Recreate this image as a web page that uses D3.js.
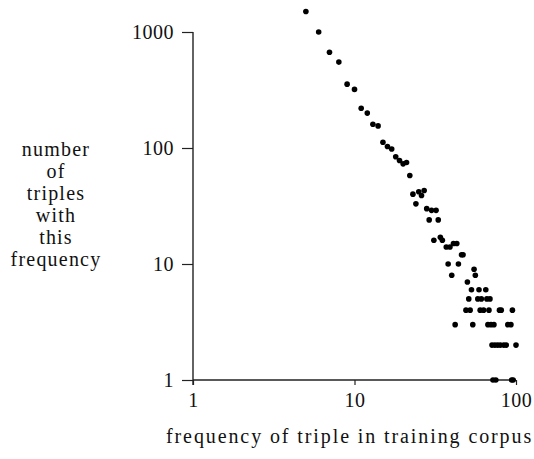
<!DOCTYPE html>
<html>
<head>
<meta charset="utf-8">
<script src="https://cdn.jsdelivr.net/npm/d3@7"></script>
<style>
  body { margin: 0; background: #fff; }
  text { font-family: "Liberation Serif", "DejaVu Serif", serif; fill: #111; }
</style>
</head>
<body>
<div id="chart"></div>
<script>
// frequency of a triple in the training corpus
var freq = [5, 6, 7, 8, 9, 10, 11, 12, 13, 14, 15, 16, 17, 18, 19, 20, 21, 22, 23, 24,
    25, 26, 27, 28, 29, 30, 31, 32, 33, 34, 35, 37, 38, 39, 40, 41, 42, 43, 44, 46,
    47, 49, 50, 51, 52, 53, 54, 55, 56, 58, 59, 60, 61, 63, 65, 66, 67, 68, 69, 70,
    71, 72, 73, 74, 75, 77, 79, 80, 81, 84, 87, 89, 93, 94, 95, 96, 100];
// number of triples having that frequency
var count = [1500, 1000, 670, 550, 355, 320, 220, 200, 160, 155, 112, 103, 98, 84, 78, 73, 75, 58, 40, 33,
    42, 39, 43, 30, 24, 29, 16, 29, 24, 17, 16, 14, 10, 14, 8, 15, 3, 15, 10, 12,
    12, 4, 7, 5, 4, 6, 3, 9, 8, 5, 6, 4, 5, 4, 6, 5, 3, 4, 5, 3,
    2, 1, 3, 2, 1, 2, 4, 2, 4, 2, 2, 3, 3, 1, 4, 1, 2];

var xTicks = [1, 10, 100];
var yTicks = [1, 10, 100, 1000];
var yTitle = ["number", "of", "triples", "with", "this", "frequency"];
var xTitle = "frequency of triple in training corpus";

var width = 534, height = 459;
var plot = {left: 193, right: 516, top: 32, bottom: 380};

var x = d3.scaleLog().domain([1, 100]).range([plot.left, plot.right]);
var y = d3.scaleLog().domain([1, 1000]).range([plot.bottom, plot.top]);

var svg = d3.select("#chart").append("svg")
    .attr("width", width).attr("height", height)
    .style("background", "#fff");

// axes
var yAxis = d3.axisLeft(y).tickValues(yTicks).tickFormat(d3.format("d"))
    .tickSize(11).tickSizeOuter(0).tickPadding(8);
var xAxis = d3.axisBottom(x).tickValues(xTicks).tickFormat(d3.format("d"))
    .tickSize(5).tickSizeOuter(0).tickPadding(8);

var gy = svg.append("g").attr("transform", "translate(" + plot.left + ",0)").call(yAxis);
var gx = svg.append("g").attr("transform", "translate(0," + plot.bottom + ")").call(xAxis);

[gx, gy].forEach(function(g) {
    g.select(".domain").remove();
    g.selectAll("line").attr("stroke", "#222").attr("stroke-width", 1.2);
    g.selectAll("text").attr("font-size", 20).attr("fill", "#111").attr("letter-spacing", 0.5)
        .style("font-family", "'Liberation Serif', serif");
});

svg.append("line").attr("x1", plot.left).attr("y1", plot.top).attr("x2", plot.left).attr("y2", plot.bottom + 5)
    .attr("stroke", "#222").attr("stroke-width", 1.4);
svg.append("line").attr("x1", plot.left).attr("y1", plot.bottom).attr("x2", plot.right).attr("y2", plot.bottom)
    .attr("stroke", "#222").attr("stroke-width", 1.4);

// points
svg.append("g").selectAll("circle").data(freq).join("circle")
    .attr("cx", function(d) { return x(d); })
    .attr("cy", function(d, i) { return y(count[i]); })
    .attr("r", 2.8)
    .attr("fill", "#000");

// titles
svg.append("text").attr("x", 56).attr("y", 156)
    .attr("text-anchor", "middle").attr("font-size", 20).attr("letter-spacing", 1.2)
    .selectAll("tspan").data(yTitle).join("tspan")
    .attr("x", 56).attr("dy", function(d, i) { return i ? 22 : 0; })
    .text(function(d) { return d; });

svg.append("text").attr("x", 166).attr("y", 443)
    .attr("font-size", 20).attr("letter-spacing", 1.9)
    .text(xTitle);
</script>
</body>
</html>
